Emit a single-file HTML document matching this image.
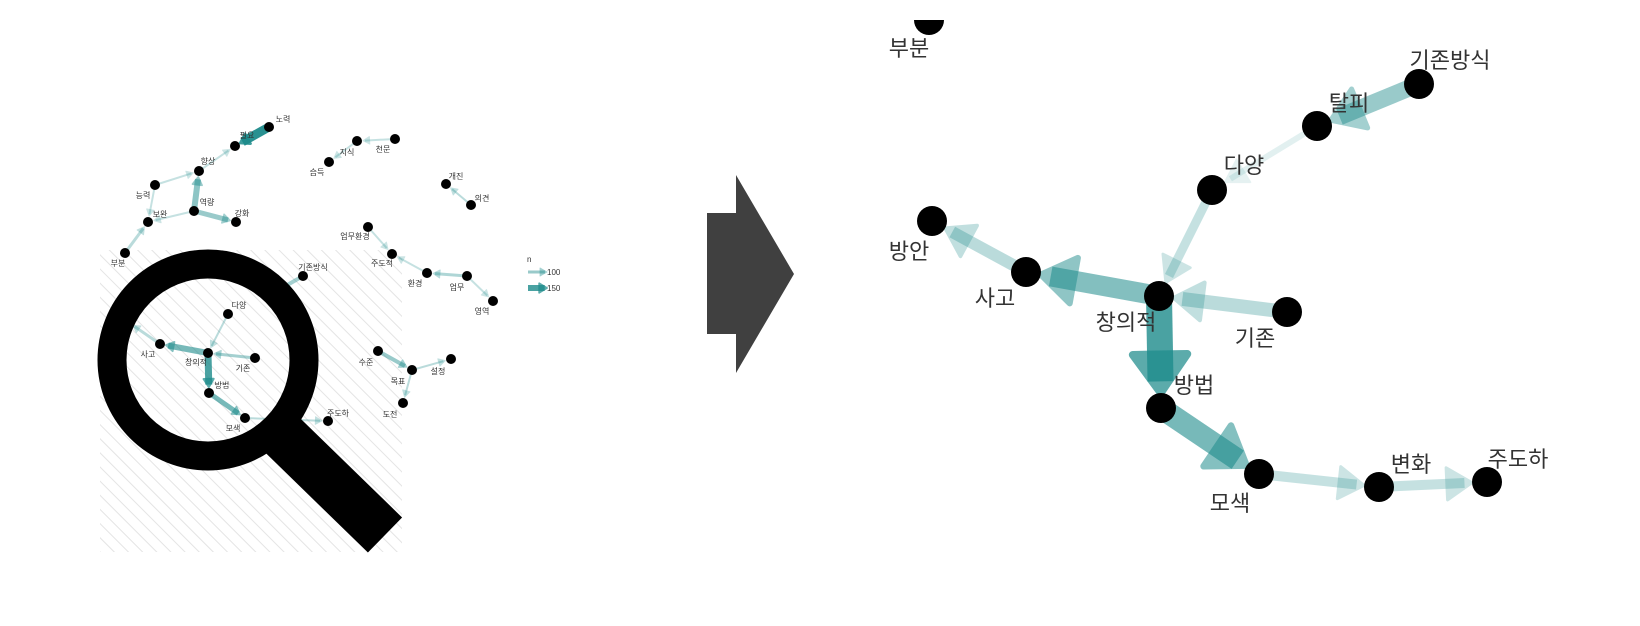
<!DOCTYPE html>
<html><head><meta charset="utf-8">
<style>
html,body{margin:0;padding:0;background:#fff;}
svg{display:block;}
text{font-family:"Liberation Sans","Noto Sans CJK KR",sans-serif;fill:#333;}
</style></head>
<body>
<svg id="s" width="1640" height="626" viewBox="0 0 1640 626" xmlns="http://www.w3.org/2000/svg">
<defs>
<pattern id="hatch" width="10" height="10" patternUnits="userSpaceOnUse" patternTransform="rotate(-45)">
<line x1="0" y1="0" x2="0" y2="10" stroke="#e4e4e4" stroke-width="2"/>
</pattern>
</defs>
<rect x="100" y="250" width="302" height="302" fill="url(#hatch)"/>
<g id="L"></g>
<circle cx="208" cy="360" r="96" fill="none" stroke="#000" stroke-width="29"/>
<line x1="272" y1="425" x2="385" y2="535" stroke="#000" stroke-width="49"/>
<polygon points="707,213 736,213 736,175 794,274 736,373 736,334 707,334" fill="#404040"/>
<g id="R"></g>
</svg>
<script>
var NS="http://www.w3.org/2000/svg";
function el(p,t,a,txt){var e=document.createElementNS(NS,t);for(var k in a)e.setAttribute(k,a[k]);if(txt)e.textContent=txt;p.appendChild(e);return e;}
var C="rgb(30,140,140)";
function edge(g,a,b,w,op,r,hs){
 var dx=b[0]-a[0],dy=b[1]-a[1],L=Math.sqrt(dx*dx+dy*dy),ux=dx/L,uy=dy/L;
 var tx=b[0]-ux*(r+1),ty=b[1]-uy*(r+1);
 var hl=hs*(1.2+w*0.06),hw=hs*(0.65+w*0.05);
 var bx=tx-ux*hl,by=ty-uy*hl;
 el(g,"line",{x1:a[0],y1:a[1],x2:tx-ux*hl*0.3,y2:ty-uy*hl*0.3,stroke:C,"stroke-width":w,opacity:op});
 el(g,"polygon",{points:tx+","+ty+" "+(bx-uy*hw)+","+(by+ux*hw)+" "+(bx+uy*hw)+","+(by-ux*hw),fill:C,stroke:C,"stroke-width":Math.max(1,w*0.3),"stroke-linejoin":"round",opacity:op*0.9});
}
var Lg=document.getElementById("L");
var N={노력:[269,127],필요:[235,146],향상:[199,171],능력:[155,185],보완:[148,222],역량:[194,211],강화:[236,222],부분:[125,253],
지식:[357,141],습득:[329,162],천문:[395,139],개진:[446,184],의견:[471,205],업무환경:[368,227],주도적:[392,254],환경:[427,273],업무:[467,276],영역:[493,301],
기존방식:[303,276],다양:[228,314],사고:[160,344],방안:[128,322],창의적:[208,353],기존:[255,358],방법:[209,393],모색:[245,418],주도하:[328,421],
수준:[378,351],목표:[412,370],설정:[451,359],도전:[403,403]};
var LE=[["노력","필요",9,0.95],["향상","필요",2,0.25],["능력","향상",2,0.25],["능력","보완",2,0.25],["역량","향상",6,0.5],["역량","보완",2,0.25],["역량","강화",5,0.45],["부분","보완",3,0.3],
["천문","지식",2,0.25],["지식","습득",2,0.25],["의견","개진",2,0.3],["업무환경","주도적",2,0.25],["환경","주도적",2,0.25],["업무","환경",3,0.35],["업무","영역",2,0.25],
["창의적","사고",6,0.6],["사고","방안",3,0.3],["다양","창의적",2,0.3],["기존","창의적",3,0.4],["창의적","방법",7,0.8],["방법","모색",5,0.6],["모색","주도하",2,0.3],["기존방식","탈피L",4,0.4],
["수준","목표",4,0.45],["목표","설정",2,0.3],["목표","도전",2,0.3]];
N.탈피L=[275,292];
LE.forEach(function(e){edge(Lg,N[e[0]],N[e[1]],e[2],e[3],e[1]=="탈피L"?0:5,5);});
var LL={노력:[283,119],필요:[247,135],향상:[208,161],능력:[143,195],보완:[160,214],역량:[207,202],강화:[242,213],부분:[118,263],
지식:[347,152],습득:[317,172],천문:[383,149],개진:[456,176],의견:[482,198],업무환경:[355,236],주도적:[382,263],환경:[415,283],업무:[457,287],영역:[482,311],
기존방식:[313,267],다양:[239,305],사고:[148,354],창의적:[196,362],기존:[243,368],방법:[222,385],모색:[233,428],주도하:[338,413],
수준:[366,362],목표:[398,381],설정:[438,371],도전:[390,414]};
for(var k in N){if(k=="방안"||k=="탈피L")continue;el(Lg,"circle",{cx:N[k][0],cy:N[k][1],r:5,fill:"#000"});}
for(var k in LL){el(Lg,"text",{x:LL[k][0],y:LL[k][1]+3,"font-size":"8","text-anchor":"middle"},k);}
el(Lg,"text",{x:527,y:262,"font-size":"8"},"n");
edge(Lg,[528,272],[548,272],3,0.45,0,5);
edge(Lg,[528,288],[548,288],6,0.8,0,5);
el(Lg,"text",{x:547,y:275,"font-size":"8"},"100");
el(Lg,"text",{x:547,y:291,"font-size":"8"},"150");
var Rg=document.getElementById("R");
var M={부분:[929,20],기존방식:[1419,84],탈피:[1317,126],다양:[1212,190],방안:[932,221],사고:[1026,272],창의적:[1159,296],기존:[1287,312],방법:[1161,408],모색:[1259,474],변화:[1379,487],주도하:[1487,482]};
var RE=[["기존방식","탈피",17,0.45],["탈피","다양",6,0.12],["다양","창의적",9,0.25],["창의적","사고",20,0.55],["사고","방안",12,0.3],["기존","창의적",14,0.3],["창의적","방법",26,0.8],["방법","모색",22,0.6],["모색","변화",10,0.25],["변화","주도하",10,0.25]];
RE.forEach(function(e){edge(Rg,M[e[0]],M[e[1]],e[2],e[3],14,14);});
for(var k in M){el(Rg,"circle",{cx:M[k][0],cy:M[k][1],r:15,fill:"#000"});}
el(Rg,"rect",{x:900,y:0,width:60,height:20,fill:"#fff"});
var ML={부분:[909,56],기존방식:[1450,68],탈피:[1349,111],다양:[1244,173],방안:[909,259],사고:[995,306],창의적:[1126,330],기존:[1255,346],방법:[1194,393],모색:[1230,511],변화:[1411,472],주도하:[1518,467]};
for(var k in ML){el(Rg,"text",{x:ML[k][0],y:ML[k][1],"font-size":"22","text-anchor":"middle"},k);}
</script>
</body></html>
